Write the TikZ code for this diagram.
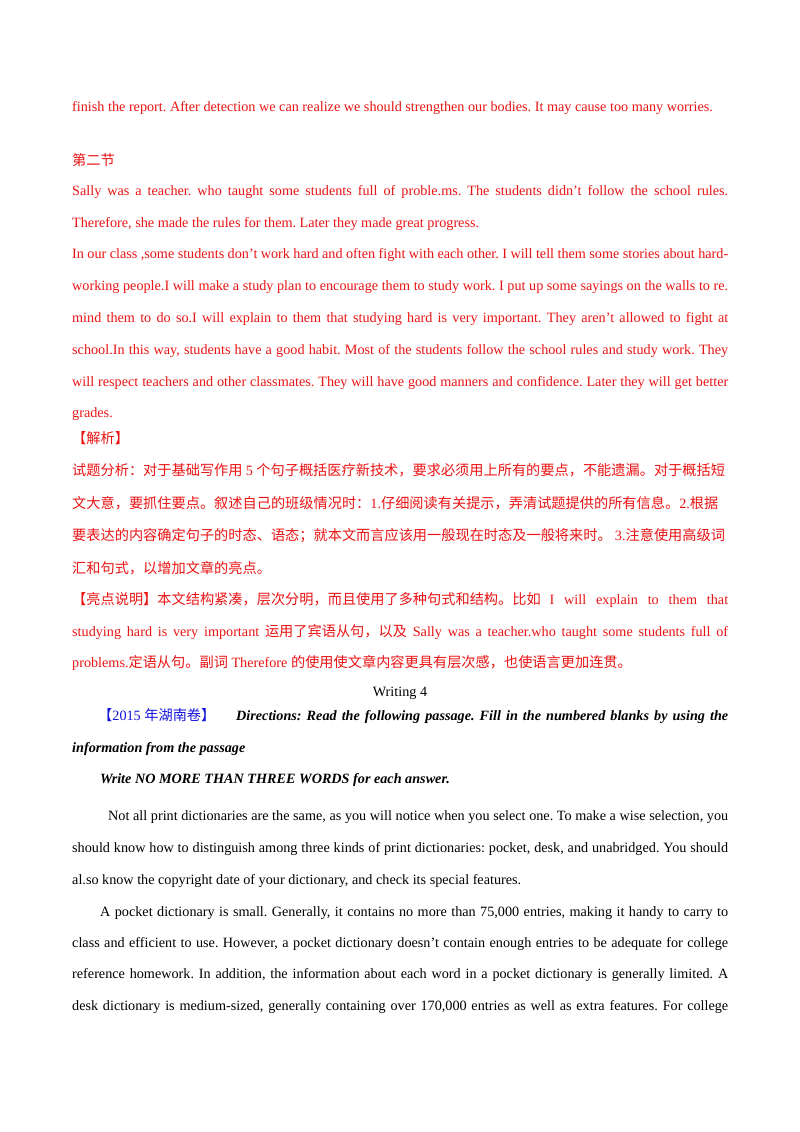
\documentclass[tikz,border=0pt]{standalone}
\usepackage{fontspec}
\setmainfont{Liberation Serif}
\newfontfamily\cjk{Noto Sans CJK SC}
\definecolor{rd}{RGB}{235,20,20}
\definecolor{bl}{RGB}{20,20,220}
\newcommand{\J}[3][rd]{\node[anchor=base west,inner sep=0,text=#1] at (72,#2) {\makebox[656pt][s]{#3}};}
\newcommand{\T}[4][rd]{\node[anchor=base west,inner sep=0,text=#1] at (#2,#3) {#4};}
\begin{document}
\frenchspacing
\begin{tikzpicture}[x=1pt,y=-1pt,font=\fontsize{14.2}{16}\selectfont]
\useasboundingbox (0,0) rectangle (800,1132);
\fill[white] (0,0) rectangle (800,1132);
\T{72}{111}{finish the report. After detection we can realize we should strengthen our bodies. It may cause too many worries.}
\T{72}{165}{\cjk 第二节}
\J{195}{Sally was a teacher. who taught some students full of proble.ms. The students didn’t follow the school rules.}
\T{72}{227}{Therefore, she made the rules for them. Later they made great progress.}
\J{258}{In our class ,some students don’t work hard and often fight with each other. I will tell them some stories about hard-}
\J{290}{working people.I will make a study plan to encourage them to study work. I put up some sayings on the walls to re.}
\J{322}{mind them to do so.I will explain to them that studying hard is very important. They aren’t allowed to fight at}
\J{354}{school.In this way, students have a good habit. Most of the students follow the school rules and study work. They}
\J{386}{will respect teachers and other classmates. They will have good manners and confidence. Later they will get better}
\T{72}{417}{grades.}
\T{72}{443}{\cjk 【解析】}
\T{72}{475}{\cjk 试题分析：对于基础写作用 \rmfamily 5 \cjk 个句子概括医疗新技术，要求必须用上所有的要点，不能遗漏。对于概括短}
\T{72}{508}{\cjk 文大意，要抓住要点。叙述自己的班级情况时：\rmfamily 1.\cjk 仔细阅读有关提示，弄清试题提供的所有信息。\rmfamily 2.\cjk 根据}
\T{72}{540}{\cjk 要表达的内容确定句子的时态、语态；就本文而言应该用一般现在时态及一般将来时。 \rmfamily 3.\cjk 注意使用高级词}
\T{72}{573}{\cjk 汇和句式，以增加文章的亮点。}
\J{604}{\cjk 【亮点说明】本文结构紧凑，层次分明，而且使用了多种句式和结构。比如 \rmfamily I will explain to them that}
\J{636}{studying hard is very important {\cjk 运用了宾语从句，以及} Sally was a teacher.who taught some students full of}
\T{72}{667}{problems.{\cjk 定语从句。副词} Therefore {\cjk 的使用使文章内容更具有层次感，也使语言更加连贯。}}
\node[anchor=base,inner sep=0] at (400,696) {Writing 4};
\T[bl]{98}{720}{\cjk 【\rmfamily 2015 \cjk 年湖南卷】}
\node[anchor=base west,inner sep=0] at (236,720) {\makebox[492pt][s]{\textbf{\textit{Directions: Read the following passage. Fill in the numbered blanks by using the}}}};
\T[black]{72}{752}{\textbf{\textit{information from the passage}}}
\T[black]{100}{783}{\textbf{\textit{Write NO MORE THAN THREE WORDS for each answer.}}}
\node[anchor=base west,inner sep=0] at (108,820) {\makebox[620pt][s]{Not all print dictionaries are the same, as you will notice when you select one. To make a wise selection, you}};
\J[black]{852}{should know how to distinguish among three kinds of print dictionaries: pocket, desk, and unabridged. You should}
\T[black]{72}{884}{al.so know the copyright date of your dictionary, and check its special features.}
\node[anchor=base west,inner sep=0] at (100,916) {\makebox[628pt][s]{A pocket dictionary is small. Generally, it contains no more than 75,000 entries, making it handy to carry to}};
\J[black]{947}{class and efficient to use. However, a pocket dictionary doesn’t contain enough entries to be adequate for college}
\J[black]{978}{reference homework. In addition, the information about each word in a pocket dictionary is generally limited. A}
\J[black]{1010}{desk dictionary is medium-sized, generally containing over 170,000 entries as well as extra features. For college}
\end{tikzpicture}
\end{document}
